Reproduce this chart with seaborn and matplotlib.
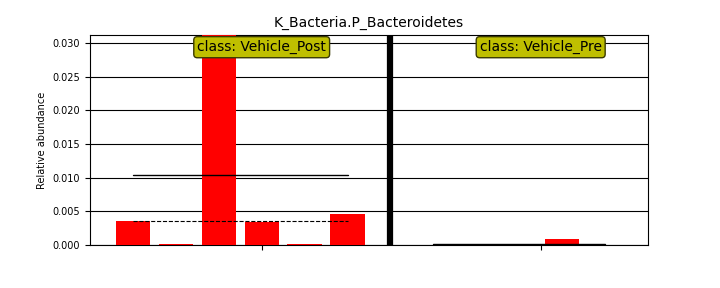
import matplotlib
matplotlib.use("Agg")
import matplotlib.pyplot as plt
import seaborn as sns
import pandas as pd

title = "K_Bacteria.P_Bacteroidetes"
class_names = ["Vehicle_Post", "Vehicle_Pre"]
post_values = [0.00356, 0.00020, 0.05003, 0.00346, 0.00020, 0.00465]
pre_values = [0.00003, 0.00002, 0.00004, 0.00089, 0.00004]
y_ticks = [0.000, 0.005, 0.010, 0.015, 0.020, 0.025, 0.030]

sns.set_style("white")
plt.rcParams['font.family'] = ['DejaVu Sans']
plt.rcParams['text.color'] = 'black'
plt.rcParams['axes.labelcolor'] = 'black'
plt.rcParams['xtick.color'] = 'black'
plt.rcParams['ytick.color'] = 'black'

fig = plt.figure(figsize=(7.2, 2.88), dpi=100)
ax = fig.add_axes([0.125, 0.149, 0.775, 0.729])

groups = [post_values, pre_values]
positions = []
values = []
starts = []
start = 0
for g in groups:
    starts.append(start)
    positions += list(range(start, start + len(g)))
    values += g
    start += len(g) + 1

df = pd.DataFrame({"pos": positions, "val": values})
sns.barplot(data=df, x="pos", y="val", native_scale=True, color="red",
            saturation=1, width=0.8, errorbar=None, ax=ax, zorder=3,
            edgecolor="none", linewidth=0)

ax.set_ylim(0, 0.03119)
ax.set_xlim(-1, start - 1)

for gi, g in enumerate(groups):
    s = starts[gi]
    n = len(g)
    m = sum(g) / n
    sg = sorted(g)
    med = sg[n // 2] if n % 2 else (sg[n // 2 - 1] + sg[n // 2]) / 2
    ax.plot([s, s + n - 1], [m, m], color="black", lw=1, zorder=4)
    ax.plot([s, s + n - 1], [med, med], color="black", lw=0.8, ls="--", zorder=4)
    ax.text(s + n / 2.0, 0.0294, "class: " + class_names[gi], ha="center", va="center",
            fontsize=10, zorder=6, color="black",
            bbox=dict(boxstyle="round,pad=0.25", facecolor="y", edgecolor="#3a3a00", alpha=1.0))
    if gi > 0:
        ax.axvline(s - 1, color="black", lw=4.5, zorder=5)

ax.set_xticks([starts[i] + len(groups[i]) / 2.0 for i in range(len(groups))])
ax.set_xticklabels(["", ""])
ax.set_yticks(y_ticks)
ax.set_yticklabels(["%.3f" % v for v in y_ticks], fontsize=7)
ax.tick_params(axis="both", length=3.5, width=0.8, colors="black", direction="out",
               bottom=True, left=True)
ax.yaxis.grid(True, color="black", lw=0.8, zorder=0)
ax.set_axisbelow(True)
for sp in ax.spines.values():
    sp.set_color("black")
    sp.set_linewidth(0.8)
ax.set_xlabel("")
ax.set_ylabel("Relative abundance", fontsize=7, color="black")
ax.set_title(title, fontsize=10, color="black")

fig.savefig("out.png", dpi=100)
